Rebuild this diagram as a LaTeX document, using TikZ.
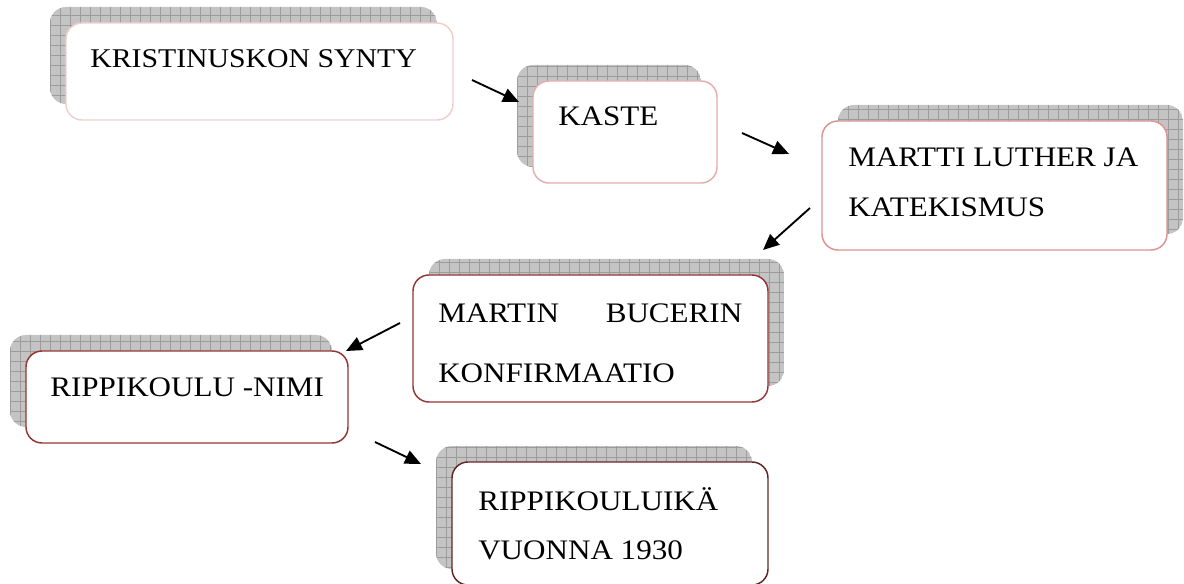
\documentclass[tikz,border=0pt]{standalone}
\usepackage{fontspec}
\setmainfont{Liberation Serif}[FakeStretch=1.1]
\usetikzlibrary{arrows.meta,fit}

\definecolor{shadefill}{HTML}{C4C4C4}
\definecolor{gridcol}{HTML}{9C9C9C}
\definecolor{paleedge}{HTML}{EDCFCE}
\definecolor{pinkedge}{HTML}{E3AEAD}
\definecolor{roseedge}{HTML}{D99594}
\definecolor{rededge}{HTML}{943634}
\definecolor{darkedge}{HTML}{632523}

\begin{document}
\begin{tikzpicture}[x=0.75pt,y=-0.75pt,
  % grey hatched backdrop behind each card
  backdrop/.style={draw=none, rounded corners=12pt, inner sep=0pt,
    path picture={
      \fill[shadefill] (path picture bounding box.south west)
        rectangle (path picture bounding box.north east);
      \draw[gridcol, line width=0.5pt, step=7.5pt]
        (path picture bounding box.south west)
        grid (path picture bounding box.north east);
    }},
  card/.style={fill=white, rounded corners=12pt, line width=1.1pt, inner sep=0pt},
  lbl/.style={anchor=base west, inner sep=0pt,
    font=\fontsize{21.2pt}{25pt}\selectfont},
  lblsmall/.style={anchor=base west, inner sep=0pt,
    font=\fontsize{20.3pt}{24pt}\selectfont},
  flow/.style={line width=1.4pt, -{Triangle[length=12pt, width=10.5pt]}}
]
\useasboundingbox (0,0) rectangle (1184,584);

% --- Kristinuskon synty
\node[backdrop, fit={(50,7) (437,104)}] (s1) {};
\node[card, draw=paleedge, fit={(66,23) (453,120)}] (b1) {};
\node[lblsmall] (t1) at (90,68) {KRISTINUSKON SYNTY};

% --- Kaste
\node[backdrop, fit={(517,65) (701,167)}] (s2) {};
\node[card, draw=pinkedge, fit={(533,81) (717,183)}] (b2) {};
\node[lbl] (t2) at (558,126) {KASTE};

% --- Martti Luther ja katekismus
\node[backdrop, fit={(838,105) (1183,234)}] (s3) {};
\node[card, draw=roseedge, fit={(822,121) (1167,250)}] (b3) {};
\node[lbl] (t3a) at (848,167) {MARTTI LUTHER JA};
\node[lbl] (t3b) at (848,217) {KATEKISMUS};

% --- Martin Bucerin konfirmaatio
\node[backdrop, fit={(429,259) (784,386)}] (s4) {};
\node[card, draw=rededge, fit={(413,275) (768,402)}] (b4) {};
\node[lbl] (t4a) at (438,323) {\makebox[228pt][s]{MARTIN BUCERIN}};
\node[lbl] (t4b) at (438,382) {KONFIRMAATIO};

% --- Rippikoulu-nimi
\node[backdrop, fit={(10,335) (332,427)}] (s5) {};
\node[card, draw=rededge, fit={(26,351) (348,443)}] (b5) {};
\node[lbl] (t5) at (50,396) {RIPPIKOULU -NIMI};

% --- Rippikouluikä vuonna 1930
\node[backdrop, fit={(436,446) (752,569)}] (s6) {};
\node[card, draw=darkedge, fit={(452,462) (768,585)}] (b6) {};
\node[lbl] (t6a) at (478,510) {RIPPIKOULUIKÄ};
\node[lbl] (t6b) at (478,559) {VUONNA 1930};

% --- arrows between the cards
\coordinate (a1s) at (472,80);  \coordinate (a1e) at (519,102);
\coordinate (a2s) at (742,133); \coordinate (a2e) at (789,154);
\coordinate (a3s) at (810,208); \coordinate (a3e) at (763,250);
\coordinate (a4s) at (400,323); \coordinate (a4e) at (346,351);
\coordinate (a5s) at (375,442); \coordinate (a5e) at (421,464);
\draw[flow] (a1s) -- (a1e);
\draw[flow] (a2s) -- (a2e);
\draw[flow] (a3s) -- (a3e);
\draw[flow] (a4s) -- (a4e);
\draw[flow] (a5s) -- (a5e);
\end{tikzpicture}
\end{document}
